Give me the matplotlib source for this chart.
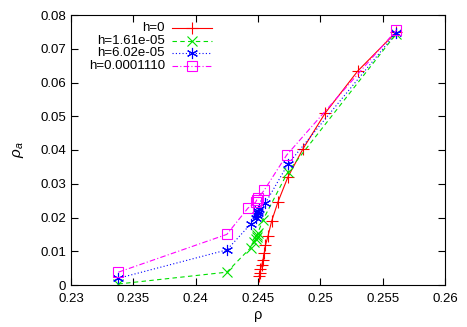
import matplotlib
matplotlib.use("Agg")
import matplotlib.pyplot as plt
from matplotlib.lines import Line2D

plt.rcParams['font.family'] = ['Liberation Sans', 'DejaVu Sans']
plt.rcParams['mathtext.fontset'] = 'custom'
plt.rcParams['mathtext.it'] = 'Liberation Sans:italic'
plt.rcParams['mathtext.rm'] = 'Liberation Sans'

# data
x_h0 = [0.2561, 0.2530, 0.2504, 0.2486, 0.2474, 0.2466, 0.2461, 0.2458, 0.2456, 0.2455,
        0.2454, 0.2453, 0.2452, 0.2452, 0.2451]
y_h0 = [0.0750, 0.0634, 0.0510, 0.0403, 0.0320, 0.0246, 0.0190, 0.0145, 0.0118, 0.0095,
        0.0074, 0.0059, 0.0047, 0.0036, 0.0028]

x_h1 = [0.2338, 0.2425, 0.2444, 0.2447, 0.2448, 0.2449, 0.2449, 0.2450, 0.2454, 0.2474, 0.2561]
y_h1 = [0.0003, 0.0038, 0.0110, 0.0128, 0.0135, 0.0141, 0.0147, 0.0155, 0.0193, 0.0335, 0.0745]

x_h2 = [0.2338, 0.2425, 0.2444, 0.2448, 0.2449, 0.2450, 0.2450, 0.2451, 0.2456, 0.2474, 0.2561]
y_h2 = [0.0020, 0.0104, 0.0180, 0.0200, 0.0207, 0.0213, 0.0219, 0.0225, 0.0243, 0.0358, 0.0748]

x_h3 = [0.2338, 0.2425, 0.2442, 0.2448, 0.2449, 0.2450, 0.2455, 0.2473, 0.2561]
y_h3 = [0.0038, 0.0150, 0.0228, 0.0245, 0.0252, 0.0257, 0.0281, 0.0385, 0.0755]

labels = ["h=0", "h=1.61e-05", "h=6.02e-05", "h=0.0001110"]
xticks = [0.23, 0.235, 0.24, 0.245, 0.25, 0.255, 0.26]
yticks = [0, 0.01, 0.02, 0.03, 0.04, 0.05, 0.06, 0.07, 0.08]

W, H = 467, 327
fig = plt.figure(figsize=(W/100, H/100), dpi=100)
L, R, B, T = 71, 445, 285, 15
ax = fig.add_axes([L/W, 1-B/H, (R-L)/W, (B-T)/H])

lw = 0.8
styles = [
    dict(color='#ff0000', ls='-', marker='+', ms=8, mew=0.8),
    dict(color='#00e000', ls=(0, (4, 3)), marker='x', ms=7, mew=0.8),
    dict(color='#0000ff', ls=(0, (1, 2)), marker=(6, 2, 0), ms=8, mew=0.8),
    dict(color='#ff00ff', ls=(0, (5, 2, 1, 2)), marker='s', ms=7, mew=0.8, mfc='none'),
]
series = [(x_h0, y_h0), (x_h1, y_h1), (x_h2, y_h2), (x_h3, y_h3)]
for (xs, ys), st, lab in zip(series, styles, labels):
    ax.plot(xs, ys, lw=lw, label=lab, **st)

ax.set_xlim(0.23, 0.26)
ax.set_ylim(0, 0.08)
ax.set_xticks(xticks)
ax.set_xticklabels([f"{v:g}" for v in xticks])
ax.set_yticks(yticks)
ax.set_yticklabels([f"{v:g}" for v in yticks])
ax.tick_params(direction='in', top=True, right=True, labelsize=9.5, length=5, width=0.8)
ax.tick_params(axis='x', pad=6)
for s in ax.spines.values():
    s.set_linewidth(0.8)

ax.set_xlabel("ρ", fontsize=10.5, labelpad=2)
ax.set_ylabel(r"$\rho_a$", fontsize=11, labelpad=10)

# gnuplot-style key: right-aligned text, sample line to the right
def to_axes(px, py):
    return (px - L) / (R - L), (B - py) / (B - T)

row_y = [28, 40.7, 53.4, 66]
for yy, st, lab in zip(row_y, styles, labels):
    tx, ty = to_axes(165, yy)
    ax.text(tx, ty, lab, transform=ax.transAxes, ha='right', va='center', fontsize=9.5)
    x0, _ = to_axes(172, yy)
    x1, _ = to_axes(212, yy)
    xm, _ = to_axes(192, yy)
    ls_st = {k: v for k, v in st.items() if k not in ('marker', 'ms', 'mew', 'mfc')}
    ax.add_line(Line2D([x0, x1], [ty, ty], transform=ax.transAxes, lw=lw, **ls_st))
    mk_st = {k: v for k, v in st.items() if k != 'ls'}
    ax.add_line(Line2D([xm], [ty], transform=ax.transAxes, ls='none', **mk_st))

fig.savefig("out.png", dpi=100)
